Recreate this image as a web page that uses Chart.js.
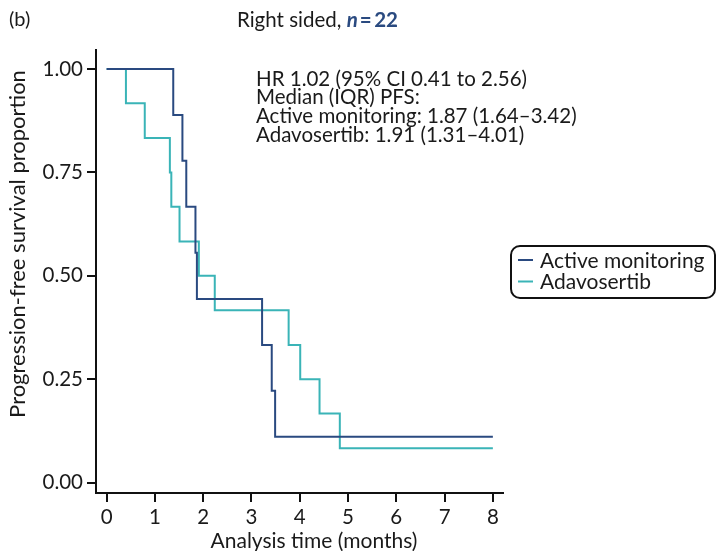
<!DOCTYPE html>
<html>
<head>
<meta charset="utf-8">
<script src="https://cdn.jsdelivr.net/npm/chart.js@4"></script>
<style>
  html, body { margin: 0; padding: 0; background: #fff; }
  #wrap { width: 716px; height: 551px; }
</style>
</head>
<body>
<div id="wrap"><canvas id="km" width="716" height="551"></canvas></div>
<script>
// KM step data (time in months, survival proportion)
var activeTimes = [0, 1.38, 1.57, 1.65, 1.84, 1.87, 3.22, 3.42, 3.49, 8];
var activeSurv  = [1, 0.889, 0.778, 0.667, 0.556, 0.444, 0.333, 0.222, 0.111, 0.111];

var adavoTimes = [0, 0.40, 0.79, 1.31, 1.34, 1.51, 1.91, 2.24, 3.77, 4.01, 4.41, 4.83, 8];
var adavoSurv  = [1, 0.917, 0.833, 0.75, 0.667, 0.583, 0.5, 0.417, 0.333, 0.25, 0.167, 0.083, 0.083];

var seriesLabels = ["Active monitoring", "Adavosertib"];
var xTicks = [0, 1, 2, 3, 4, 5, 6, 7, 8];
var yTicks = [0, 0.25, 0.5, 0.75, 1];

var annotationLines = [
  "HR 1.02 (95% CI 0.41 to 2.56)",
  "Median (IQR) PFS:",
  "Active monitoring: 1.87 (1.64\u20133.42)",
  "Adavosertib: 1.91 (1.31\u20134.01)"
];

var NAVY = "#2a4a80";
var TEAL = "#3ab4b7";
var FONT = "Lato, 'DejaVu Sans', sans-serif";

function toPoints(xs, ys) {
  return xs.map(function (x, i) { return { x: x, y: ys[i] }; });
}

// titles, annotation, legend box, axis titles
var extras = {
  id: "extras",
  afterDraw: function (chart) {
    var ctx = chart.ctx;
    ctx.save();
    ctx.fillStyle = "#1a1a1a";
    ctx.textBaseline = "middle";
    ctx.textAlign = "left";

    ctx.font = "20px " + FONT;
    ctx.fillText("(b)", 9, 20);

    // panel title
    var tx = 237;
    ctx.font = "20.5px " + FONT;
    ctx.fillText("Right sided, ", tx, 20);
    tx += ctx.measureText("Right sided, ").width;
    ctx.fillStyle = NAVY;
    ctx.font = "italic bold 20.5px " + FONT;
    ctx.fillText("n", tx, 20);
    tx += ctx.measureText("n").width + 2;
    ctx.font = "bold 20.5px " + FONT;
    ctx.fillText("=\u200922", tx, 20);

    // HR annotation
    ctx.fillStyle = "#1a1a1a";
    ctx.font = "20.5px " + FONT;
    annotationLines.forEach(function (s, i) {
      ctx.fillText(s, 256, 79 + i * 18.7);
    });

    // legend
    ctx.lineWidth = 2;
    ctx.strokeStyle = "#111";
    ctx.beginPath();
    ctx.roundRect(511, 246, 204, 52, 9);
    ctx.stroke();
    ctx.font = "21px " + FONT;
    chart.data.datasets.forEach(function (ds, i) {
      var y = 260 + i * 21.5;
      ctx.strokeStyle = ds.borderColor;
      ctx.beginPath();
      ctx.moveTo(518, y);
      ctx.lineTo(533, y);
      ctx.stroke();
      ctx.fillStyle = "#1a1a1a";
      ctx.fillText(ds.label, 540, y + 1);
    });

    // axis titles
    ctx.textAlign = "center";
    ctx.font = "21px " + FONT;
    ctx.fillText("Analysis time (months)", 314, 541);
    ctx.font = "22px " + FONT;
    ctx.translate(18, 244);
    ctx.rotate(-Math.PI / 2);
    ctx.fillText("Progression-free survival proportion", 0, 0);
    ctx.restore();
  }
};

var ctx = document.getElementById("km").getContext("2d");
var chart = new Chart(ctx, {
  type: "line",
  data: {
    datasets: [{
      label: seriesLabels[0],
      data: toPoints(activeTimes, activeSurv),
      borderColor: NAVY,
      borderWidth: 2,
      pointRadius: 0,
      stepped: "before",
      fill: false
    }, {
      label: seriesLabels[1],
      data: toPoints(adavoTimes, adavoSurv),
      borderColor: TEAL,
      borderWidth: 2,
      pointRadius: 0,
      stepped: "before",
      fill: false
    }]
  },
  plugins: [extras],
  options: {
    responsive: false,
    animation: false,
    layout: { padding: { top: 50, right: 213, left: 0, bottom: 0 } },
    plugins: {
      legend: { display: false },
      tooltip: { enabled: false }
    },
    scales: {
      x: {
        type: "linear",
        min: -0.22,
        max: 8.21,
        afterBuildTicks: function (s) { s.ticks = xTicks.map(function (v) { return { value: v }; }); },
        afterFit: function (s) { s.height = 58; },
        border: { display: true, color: "#111", width: 2 },
        grid: { drawOnChartArea: false, drawTicks: true, tickLength: 9, tickColor: "#111", lineWidth: 2 },
        ticks: { color: "#1a1a1a", font: { family: FONT, size: 20.5 }, padding: 3, maxRotation: 0 }
      },
      y: {
        type: "linear",
        min: -0.025,
        max: 1.046,
        afterBuildTicks: function (s) { s.ticks = yTicks.map(function (v) { return { value: v }; }); },
        afterFit: function (s) { s.width = 96; },
        border: { display: true, color: "#111", width: 2 },
        grid: { drawOnChartArea: false, drawTicks: true, tickLength: 9, tickColor: "#111", lineWidth: 2 },
        ticks: {
          color: "#1a1a1a", font: { family: FONT, size: 20.5 }, padding: 4,
          callback: function (v) { return v.toFixed(2); }
        }
      }
    }
  }
});
</script>
</body>
</html>
